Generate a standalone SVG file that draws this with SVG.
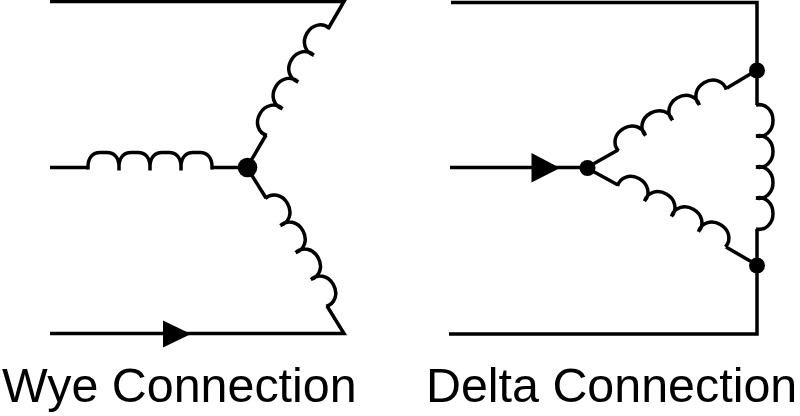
<svg xmlns="http://www.w3.org/2000/svg" width="800" height="416" viewBox="0 0 800 416">
  <style>
    .w { fill: none; stroke: #000; stroke-width: 3.500; stroke-linejoin: miter; stroke-linecap: butt; }
    .dot, .arrow { fill: #000; stroke: none; }
    .label { font-family: "Liberation Sans", Arial, sans-serif; font-size: 48.400px; fill: #000; }
  </style>
  <defs>
    <path id="coil" class="w" d="M0 2V-1C0-10 5-15 12-15H19C26-15 31-10 31-1V3M31-1C31-10 36-15 43-15H50C57-15 62-10 62-1V3M62-1C62-10 67-15 74-15H81C88-15 93-10 93-1V3M93-1C93-10 98-15 105-15H112C119-15 124-10 124-1V2"/>
    <path id="coil-round" class="w" d="M0 1C-2-8 5-16 15.500-16S33-8 31 1M31 1C29-8 36-16 46.500-16S64-8 62 1M62 1C60-8 67-16 77.500-16S95-8 93 1M93 1C91-8 98-16 108.500-16S126-8 124 1"/>
  </defs>
  <rect width="800" height="416" fill="#fff"/>
  <g id="connectors">
    <path class="w" d="M50 1.500H344L328 29"/>
    <path class="w" d="M50 167.500H88"/>
    <path class="w" d="M211 167.500H247L266 135"/>
    <path class="w" d="M247 167.500L266 198"/>
    <path class="w" d="M327 306L344 333.500H50"/>
    <path class="w" d="M451 2.500H757V105"/>
    <path class="w" d="M450 167.500H587L618 150"/>
    <path class="w" d="M587 168L618 185"/>
    <path class="w" d="M727 88L757 70"/>
    <path class="w" d="M726 247L757 265"/>
    <path class="w" d="M757 229V334H449"/>
  </g>
  <g id="wye-coil-a"><use href="#coil" transform="translate(88 167.500)"/></g>
  <g id="wye-coil-b"><use href="#coil-round" transform="translate(266 135) rotate(-59.700)"/></g>
  <g id="wye-coil-c"><use href="#coil-round" transform="translate(266 198) rotate(60.500)"/></g>
  <g id="wye-hub"><circle class="dot" cx="247.500" cy="167.500" r="9.800"/></g>
  <g id="wye-arrow"><polygon class="arrow" points="163,320.500 191,334 163,347.500"/></g>
  <g id="delta-coil-a"><use href="#coil-round" transform="translate(618 150) rotate(-29.600)"/></g>
  <g id="delta-coil-b"><use href="#coil-round" transform="translate(618 185) rotate(29.500)"/></g>
  <g id="delta-coil-c"><use href="#coil-round" transform="translate(757 105) rotate(90)"/></g>
  <g id="delta-hub-left"><circle class="dot" cx="587.500" cy="168" r="8"/></g>
  <g id="delta-hub-top"><circle class="dot" cx="757" cy="70.500" r="8"/></g>
  <g id="delta-hub-bottom"><circle class="dot" cx="757" cy="265.500" r="8"/></g>
  <g id="delta-arrow"><polygon class="arrow" points="531.500,153 560,168 531.500,182.500"/></g>
  <g id="wye-label"><text class="label" x="2" y="402">Wye Connection</text></g>
  <g id="delta-label"><text class="label" x="426" y="402">Delta Connection</text></g>
</svg>
